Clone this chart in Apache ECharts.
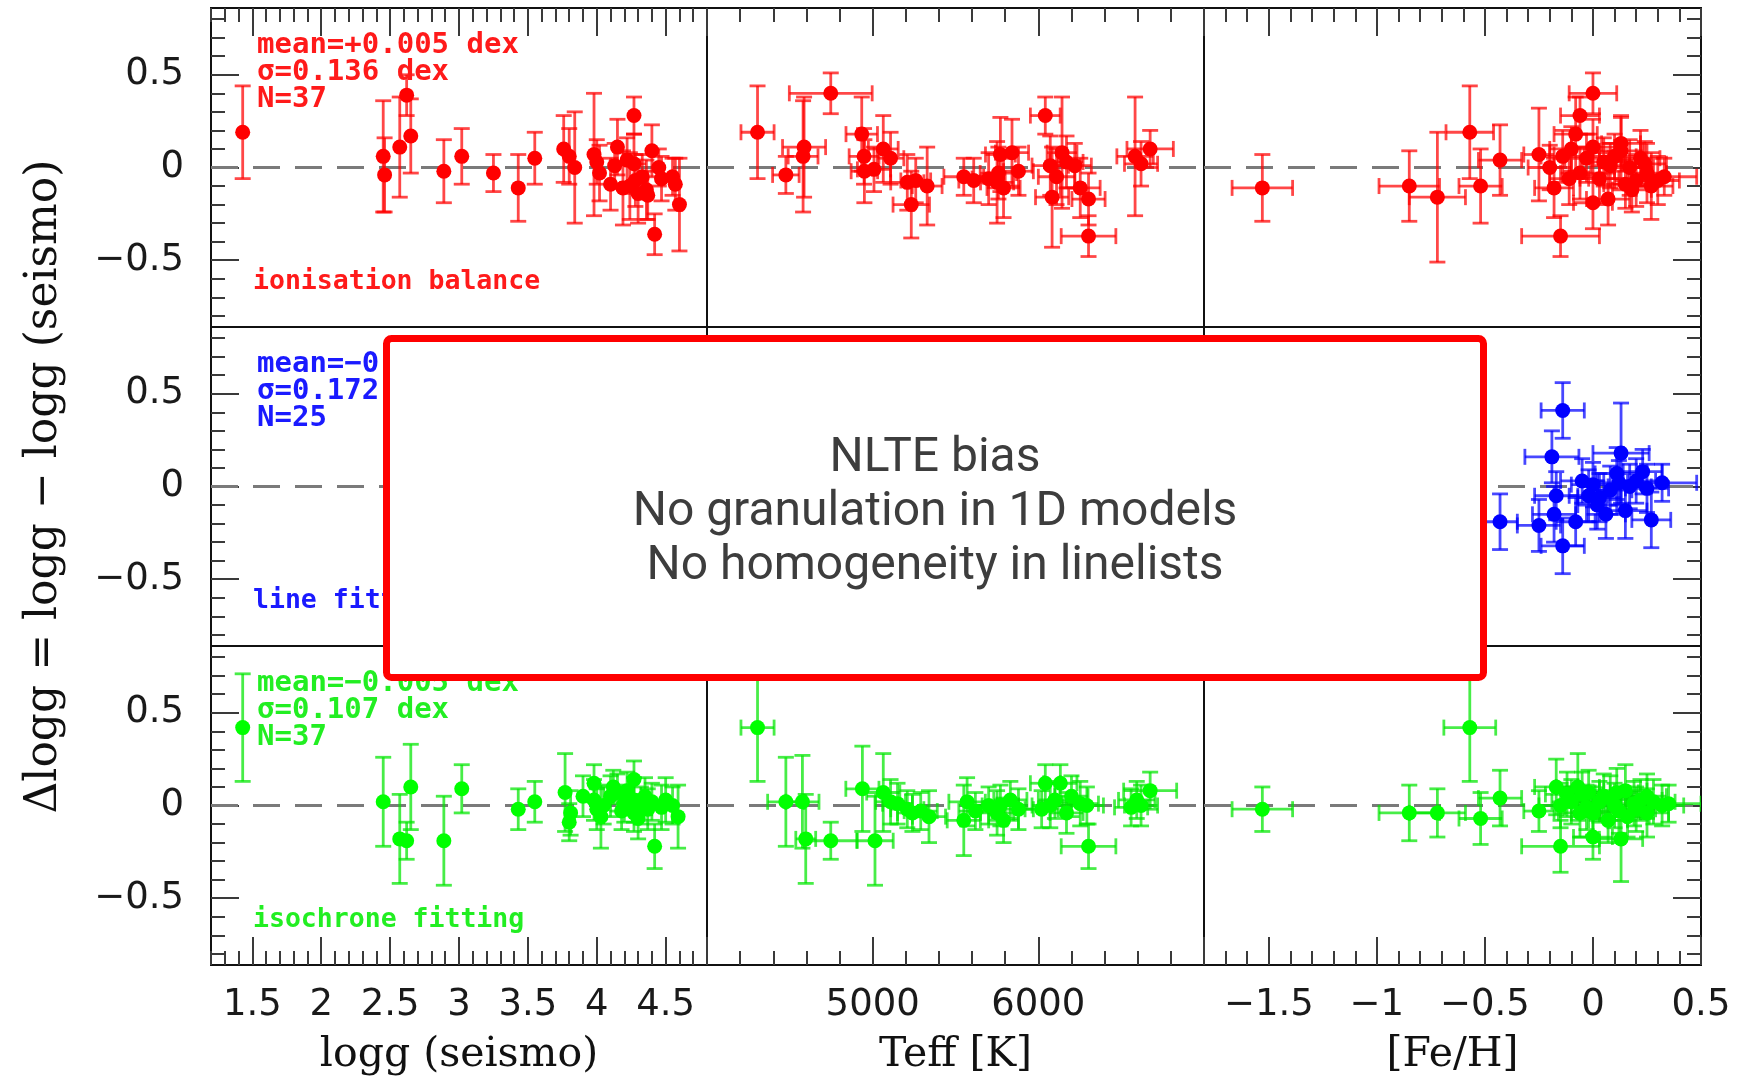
<!DOCTYPE html>
<html><head><meta charset="utf-8">
<script src="https://cdn.jsdelivr.net/npm/echarts@6/dist/echarts.min.js"></script>
<style>html,body{margin:0;padding:0;background:#fff}#c{width:1742px;height:1080px}</style>
</head><body><div id="c"></div>
<script>
// ---------- tick labels ----------
const loggTickLabels = [1.5, 2, 2.5, 3, 3.5, 4, 4.5];
const teffTickLabels = [5000, 6000];
const fehTickLabels = [-1.5, -1, -0.5, 0, 0.5];
const dloggTickLabels = [-0.5, 0, 0.5];

// ---------- axis titles ----------
const xTitles = ['logg (seismo)', 'Teff [K]', '[Fe/H]'];
const yTitle = 'Δlogg = logg − logg (seismo)';

// ---------- panel annotations ----------
const methodNames = ['ionisation balance', 'line fitting', 'isochrone fitting'];
const statLines = [
  ['mean=+0.005 dex', 'σ=0.136 dex', 'N=37'],
  ['mean=−0.035 dex', 'σ=0.172 dex', 'N=25'],
  ['mean=−0.005 dex', 'σ=0.107 dex', 'N=37']
];
const boxLines = ['NLTE bias', 'No granulation in 1D models', 'No homogeneity in linelists'];

// ---------- data: ionisation balance (red) ----------
// [logg, dlogg, dlogg_err]
const ionVsLogg = [
  [1.43,0.19,0.25],[2.45,0.06,0.30],[2.46,-0.04,0.20],[2.57,0.11,0.27],[2.62,0.39,0.11],
  [2.65,0.17,0.20],[2.89,-0.02,0.17],[3.02,0.06,0.15],[3.25,-0.03,0.10],[3.43,-0.11,0.18],
  [3.55,0.05,0.14],[3.76,0.10,0.18],[3.84,0.00,0.30],[3.80,0.06,0.15],[3.98,0.07,0.33],
  [4.02,-0.03,0.15],[4.00,0.03,0.12],[4.13,0.01,0.12],[4.15,0.11,0.15],[4.19,-0.11,0.20],
  [4.10,-0.09,0.14],[4.22,0.04,0.12],[4.27,0.28,0.10],[4.27,0.02,0.16],[4.28,-0.07,0.14],
  [4.30,-0.14,0.16],[4.33,-0.05,0.12],[4.37,-0.15,0.13],[4.36,-0.12,0.16],[4.40,0.09,0.14],
  [4.42,-0.36,0.11],[4.47,-0.06,0.12],[4.45,0.00,0.10],[4.57,-0.09,0.14],[4.60,-0.20,0.25],
  [4.55,-0.05,0.10],[4.24,-0.10,0.18]
];
// [Teff, dlogg, Teff_err, dlogg_err]
const ionVsTeff = [
  [4305,0.19,100,0.25],[4476,-0.04,80,0.10],[4586,0.11,130,0.27],[4580,0.06,90,0.30],[4747,0.40,250,0.11],
  [4934,0.18,95,0.20],[4948,0.06,90,0.15],[4950,-0.02,80,0.17],[5008,-0.01,100,0.12],[5064,0.10,90,0.18],
  [5108,0.05,80,0.14],[5209,-0.08,100,0.15],[5233,-0.20,110,0.18],[5329,-0.10,90,0.21],[5550,-0.05,120,0.10],
  [5610,-0.07,90,0.12],[5751,-0.08,100,0.22],[5771,0.07,90,0.20],[5841,0.08,100,0.18],[5759,-0.03,110,0.14],
  [5790,-0.11,100,0.16],[6042,0.28,90,0.10],[6072,0.01,110,0.16],[6083,-0.16,100,0.27],[6143,0.08,90,0.30],
  [6170,0.03,100,0.14],[6110,-0.05,110,0.15],[6253,-0.11,120,0.16],[6303,-0.17,100,0.14],[6303,-0.37,165,0.11],
  [6220,0.01,100,0.12],[6584,0.06,110,0.32],[6675,0.10,140,0.10],[6620,0.02,100,0.12],[5880,-0.02,90,0.13],
  [5260,-0.07,90,0.12],[5700,-0.06,100,0.14]
];
// [FeH, dlogg, FeH_err, dlogg_err]
const ionVsFeh = [
  [-1.53,-0.11,0.14,0.18],[-0.85,-0.10,0.14,0.19],[-0.72,-0.16,0.13,0.35],[-0.57,0.19,0.11,0.25],[-0.52,-0.10,0.10,0.20],
  [-0.43,0.04,0.10,0.19],[-0.25,0.07,0.07,0.25],[-0.18,-0.11,0.09,0.16],[-0.15,-0.37,0.18,0.11],[-0.08,0.18,0.10,0.20],
  [-0.06,0.28,0.09,0.10],[0.00,0.40,0.11,0.11],[0.00,0.11,0.10,0.15],[0.00,-0.19,0.09,0.14],[0.07,-0.17,0.10,0.14],
  [-0.06,-0.03,0.09,0.14],[0.13,0.09,0.10,0.18],[0.17,0.00,0.11,0.15],[0.20,-0.07,0.10,0.14],[0.25,-0.03,0.09,0.16],
  [0.27,-0.10,0.10,0.18],[0.33,-0.05,0.15,0.10],[-0.14,0.06,0.10,0.14],[0.10,0.06,0.10,0.12],[0.05,0.03,0.10,0.13],
  [0.13,0.13,0.09,0.15],[-0.10,0.10,0.10,0.12],[0.03,-0.06,0.09,0.14],[0.15,-0.09,0.10,0.13],[0.22,0.05,0.09,0.15],
  [-0.20,0.00,0.10,0.12],[0.30,-0.07,0.10,0.13],[0.08,0.01,0.09,0.12],[-0.03,0.05,0.10,0.13],[0.18,-0.12,0.09,0.12],
  [-0.11,-0.06,0.09,0.14],[0.24,0.02,0.10,0.12]
];

// ---------- data: line fitting (blue) ----------
const fitVsLogg = [];
const fitVsTeff = [];
const fitVsFeh = [
  [-0.14,0.41,0.10,0.15],[-0.19,0.16,0.125,0.14],[0.13,0.18,0.13,0.27],[-0.43,-0.19,0.08,0.15],[-0.25,-0.21,0.10,0.14],
  [-0.18,-0.15,0.10,0.15],[-0.17,-0.05,0.10,0.13],[-0.14,-0.32,0.10,0.15],[-0.08,-0.19,0.09,0.13],[-0.02,-0.05,0.09,0.14],
  [0.00,0.01,0.10,0.12],[0.06,-0.15,0.09,0.13],[0.11,0.07,0.10,0.14],[0.15,-0.13,0.10,0.15],[0.12,0.02,0.10,0.12],
  [0.23,0.08,0.09,0.12],[0.25,-0.01,0.10,0.13],[0.27,-0.18,0.09,0.15],[0.32,0.02,0.16,0.10],[0.17,0.00,0.10,0.12],
  [0.03,-0.06,0.10,0.13],[-0.05,0.03,0.10,0.12],[0.20,0.03,0.09,0.12],[0.08,-0.02,0.10,0.13],[0.02,-0.10,0.09,0.13]
];

// ---------- data: isochrone fitting (green) ----------
const isoVsLogg = [
  [1.43,0.42,0.29],[2.45,0.02,0.24],[2.57,-0.18,0.24],[2.62,-0.19,0.10],[2.65,0.10,0.23],
  [2.89,-0.19,0.24],[3.02,0.09,0.13],[3.43,-0.02,0.11],[3.55,0.02,0.11],[3.77,0.07,0.21],
  [3.81,-0.04,0.12],[3.80,-0.09,0.10],[3.98,0.12,0.10],[3.98,0.03,0.11],[4.03,-0.06,0.17],
  [4.15,0.07,0.10],[4.27,0.14,0.10],[4.27,0.03,0.12],[4.27,-0.04,0.10],[4.37,-0.02,0.11],
  [4.42,-0.22,0.12],[4.55,0.00,0.10],[4.59,-0.06,0.17],[4.20,0.01,0.10],[4.10,0.05,0.11],
  [4.22,0.08,0.10],[4.32,0.00,0.10],[4.47,-0.01,0.12],[4.00,-0.02,0.11],[4.12,0.10,0.09],
  [4.35,0.05,0.10],[4.50,0.03,0.12],[4.05,0.00,0.10],[4.30,-0.07,0.11],[4.18,-0.03,0.10],
  [4.40,0.02,0.10],[3.90,0.05,0.11]
];
const isoVsTeff = [
  [4305,0.42,100,0.29],[4476,0.02,110,0.24],[4576,0.02,100,0.25],[4596,-0.18,60,0.24],[4747,-0.19,160,0.10],
  [4938,0.09,100,0.23],[5014,-0.19,110,0.24],[5064,0.07,100,0.21],[5108,0.02,90,0.12],[5209,-0.02,100,0.10],
  [5240,-0.04,90,0.10],[5340,-0.06,100,0.14],[5550,-0.08,100,0.19],[5570,0.02,110,0.13],[5751,-0.04,100,0.12],
  [5771,0.00,110,0.11],[5831,0.03,100,0.10],[5790,-0.08,90,0.12],[6042,0.12,90,0.10],[6072,0.00,110,0.12],
  [6133,0.12,100,0.10],[6170,-0.04,100,0.11],[6100,0.03,100,0.10],[6253,0.01,110,0.12],[6293,0.00,100,0.10],
  [6303,-0.22,165,0.12],[6594,0.03,110,0.10],[6675,0.08,160,0.10],[6620,0.00,100,0.11],[5150,0.01,90,0.11],
  [5290,-0.03,100,0.10],[5700,0.00,100,0.10],[5880,-0.02,90,0.11],[6020,-0.02,100,0.10],[6200,0.05,100,0.11],
  [5620,-0.03,100,0.10],[6560,-0.01,100,0.10]
];
const isoVsFeh = [
  [-1.53,-0.02,0.14,0.12],[-0.85,-0.04,0.14,0.15],[-0.72,-0.04,0.13,0.13],[-0.57,0.42,0.12,0.29],[-0.52,-0.07,0.10,0.14],
  [-0.43,0.04,0.10,0.15],[-0.25,-0.03,0.07,0.11],[-0.17,0.10,0.10,0.15],[-0.15,-0.22,0.18,0.14],[-0.07,0.10,0.10,0.18],
  [-0.05,0.06,0.09,0.12],[0.00,-0.04,0.10,0.12],[0.00,-0.17,0.09,0.12],[0.05,0.05,0.10,0.12],[0.10,0.00,0.10,0.12],
  [0.13,-0.18,0.10,0.23],[0.11,0.07,0.10,0.13],[0.19,0.01,0.09,0.12],[0.25,-0.04,0.10,0.13],[0.25,0.05,0.09,0.12],
  [0.32,0.00,0.10,0.11],[0.35,0.01,0.15,0.10],[-0.15,0.00,0.10,0.12],[-0.06,-0.04,0.10,0.13],[0.07,-0.08,0.09,0.12],
  [0.15,0.08,0.10,0.14],[-0.10,0.02,0.09,0.12],[0.03,0.02,0.10,0.11],[0.20,-0.02,0.09,0.12],[-0.02,0.07,0.10,0.12],
  [0.08,0.04,0.10,0.12],[0.16,-0.06,0.10,0.11],[-0.12,0.06,0.10,0.12],[0.28,0.02,0.10,0.12],[0.22,0.03,0.10,0.11],
  [-0.03,-0.01,0.10,0.12],[0.12,-0.03,0.09,0.12]
];

// ---------- layout ----------
const colLeft = [211, 707, 1204];
const colWidth = [496, 497, 497];
const rowTop = [8, 327, 646];
const rowHeight = 319;
const xMin = [1.2, 4000, -1.8], xMax = [4.8, 7000, 0.5];
const yMin = -0.86, yMax = 0.86;
const xMajor = [loggTickLabels, [4000, 5000, 6000, 7000], [-1.5, -1, -0.5, 0, 0.5]];
const xMinorStep = [0.1, 200, 0.1];
const rowColors = ['#ff0000', '#0000ff', '#00ff00'];
const barColors = ['rgba(255,0,0,0.72)', 'rgba(0,0,255,0.72)', 'rgba(0,230,0,0.72)'];
const textColors = ['#ff1a1a', '#1a1aff', '#22ee22'];
const panelData = [
  [ionVsLogg.map(d => [d[0], d[1], 0, d[2]]), ionVsTeff, ionVsFeh],
  [fitVsLogg.map(d => [d[0], d[1], 0, d[2]]), fitVsTeff, fitVsFeh],
  [isoVsLogg.map(d => [d[0], d[1], 0, d[2]]), isoVsTeff, isoVsFeh]
];

function steps(a, b, s) {
  const out = [];
  const n = Math.round((b - a) / s);
  for (let i = 0; i <= n; i++) out.push(Math.round((a + i * s) * 1000) / 1000);
  return out;
}
const fmt = v => String(v).replace('-', '−');
const tickStyle = {color: '#3a3a3a', width: 2};
const labelFont = {fontFamily: 'DejaVu Sans', fontSize: 37, color: '#1a1a1a'};
const xNameFont = {fontFamily: 'DejaVu Serif', fontSize: 41, color: '#111'};
const yNameFont = {fontFamily: 'DejaVu Serif', fontSize: 44, color: '#111'};
const noLine = {show: false, onZero: false};

const grids = [], xAxes = [], yAxes = [], series = [], graphics = [];
const yMinor = steps(-0.8, 0.8, 0.1);

for (let r = 0; r < 3; r++) {
  for (let c = 0; c < 3; c++) {
    const g = grids.length;
    grids.push({left: colLeft[c], top: rowTop[r], width: colWidth[c], height: rowHeight,
      show: true, borderColor: '#111', borderWidth: 2, backgroundColor: 'transparent',
      containLabel: false, outerBoundsMode: 'none'});
    const base = {type: 'value', gridIndex: g, min: xMin[c], max: xMax[c],
      axisLine: noLine, splitLine: {show: false}};
    const xMain = xAxes.length;
    xAxes.push(Object.assign({}, base, {
      position: 'bottom',
      axisTick: {show: r === 2, inside: true, length: 28, customValues: xMajor[c], lineStyle: tickStyle},
      axisLabel: Object.assign({show: r === 2, customValues: [loggTickLabels, teffTickLabels, fehTickLabels][c],
        formatter: fmt, margin: 22, showMaxLabel: true, showMinLabel: true}, labelFont),
      name: r === 2 ? xTitles[c] : '', nameLocation: 'middle', nameGap: 70, nameTextStyle: xNameFont
    }));
    if (r === 2 || r === 0) {
      const pos = r === 2 ? 'bottom' : 'top';
      xAxes.push(Object.assign({}, base, {position: pos,
        axisTick: {show: true, inside: true, length: 14, customValues: steps(xMin[c], xMax[c], xMinorStep[c]), lineStyle: tickStyle},
        axisLabel: {show: false}}));
      if (r === 0) {
        xAxes.push(Object.assign({}, base, {position: 'top',
          axisTick: {show: true, inside: true, length: 28, customValues: xMajor[c], lineStyle: tickStyle},
          axisLabel: {show: false}}));
      }
    }
    const ybase = {type: 'value', gridIndex: g, min: yMin, max: yMax, axisLine: noLine, splitLine: {show: false}};
    const yMain = yAxes.length;
    yAxes.push(Object.assign({}, ybase, {position: 'left',
      axisTick: {show: c === 0, inside: true, length: 28, customValues: dloggTickLabels, lineStyle: tickStyle},
      axisLabel: Object.assign({show: c === 0, customValues: dloggTickLabels, formatter: fmt, margin: 27}, labelFont),
      name: (c === 0 && r === 1) ? yTitle : '', nameLocation: 'middle', nameGap: 144, nameRotate: 90, nameTextStyle: yNameFont
    }));
    if (c === 0 || c === 2) {
      const pos = c === 0 ? 'left' : 'right';
      yAxes.push(Object.assign({}, ybase, {position: pos,
        axisTick: {show: true, inside: true, length: 14, customValues: yMinor, lineStyle: tickStyle},
        axisLabel: {show: false}}));
      if (c === 2) {
        yAxes.push(Object.assign({}, ybase, {position: 'right',
          axisTick: {show: true, inside: true, length: 28, customValues: dloggTickLabels, lineStyle: tickStyle},
          axisLabel: {show: false}}));
      }
    }
    const pts = panelData[r][c];
    const barCol = barColors[r];
    series.push({
      type: 'custom', xAxisIndex: xMain, yAxisIndex: yMain, data: pts, clip: true, z: 2,
      encode: {x: 0, y: 1},
      renderItem: function (params, api) {
        const x = api.value(0), y = api.value(1), xe = api.value(2), ye = api.value(3);
        const st = {stroke: barCol, lineWidth: 2.8, fill: null};
        const ch = [];
        const cap = 8;
        if (ye > 0) {
          const a = api.coord([x, y - ye]), b = api.coord([x, y + ye]);
          ch.push({type: 'line', shape: {x1: a[0], y1: a[1], x2: b[0], y2: b[1]}, style: st});
          ch.push({type: 'line', shape: {x1: a[0] - cap, y1: a[1], x2: a[0] + cap, y2: a[1]}, style: st});
          ch.push({type: 'line', shape: {x1: b[0] - cap, y1: b[1], x2: b[0] + cap, y2: b[1]}, style: st});
        }
        if (xe > 0) {
          const a = api.coord([x - xe, y]), b = api.coord([x + xe, y]);
          ch.push({type: 'line', shape: {x1: a[0], y1: a[1], x2: b[0], y2: b[1]}, style: st});
          ch.push({type: 'line', shape: {x1: a[0], y1: a[1] - cap, x2: a[0], y2: a[1] + cap}, style: st});
          ch.push({type: 'line', shape: {x1: b[0], y1: b[1] - cap, x2: b[0], y2: b[1] + cap}, style: st});
        }
        return {type: 'group', children: ch};
      }
    });
    series.push({
      type: 'scatter', xAxisIndex: xMain, yAxisIndex: yMain, z: 3,
      data: pts.map(p => [p[0], p[1]]), symbol: 'circle', symbolSize: 15,
      itemStyle: {color: rowColors[r], opacity: 1},
      markLine: {silent: true, symbol: ['none', 'none'], label: {show: false}, z: 1,
        lineStyle: {color: '#7a7a7a', type: [27, 15], width: 3, opacity: 1},
        emphasis: {disabled: true}, data: [{yAxis: 0}]}
    });
  }
}

// panel annotations
for (let r = 0; r < 3; r++) {
  statLines[r].forEach((t, i) => {
    graphics.push({type: 'text', x: 257, y: rowTop[r] + 37 + i * 27, z: 50,
      style: {text: t, font: 'bold 29px "DejaVu Sans Mono"', fill: textColors[r], verticalAlign: 'middle', align: 'left'}});
  });
  graphics.push({type: 'text', x: 253, y: rowTop[r] + 274, z: 50,
    style: {text: methodNames[r], font: 'bold 26.5px "DejaVu Sans Mono"', fill: textColors[r], verticalAlign: 'middle', align: 'left'}});
}
// overlay box
graphics.push({type: 'rect', z: 100, shape: {x: 386.5, y: 338.5, width: 1097, height: 339, r: 5},
  style: {fill: '#ffffff', stroke: '#ff0000', lineWidth: 7}});
graphics.push({type: 'text', z: 101, x: 935, y: 513,
  style: {text: boxLines.join('\n'), font: '48px Roboto', fill: '#3d3d3d', align: 'center', verticalAlign: 'middle', lineHeight: 54}});

const chart = echarts.init(document.getElementById('c'), null, {renderer: 'canvas'});
chart.setOption({
  animation: false,
  backgroundColor: '#ffffff',
  grid: grids, xAxis: xAxes, yAxis: yAxes, series: series,
  graphic: {elements: graphics}
});
</script></body></html>
